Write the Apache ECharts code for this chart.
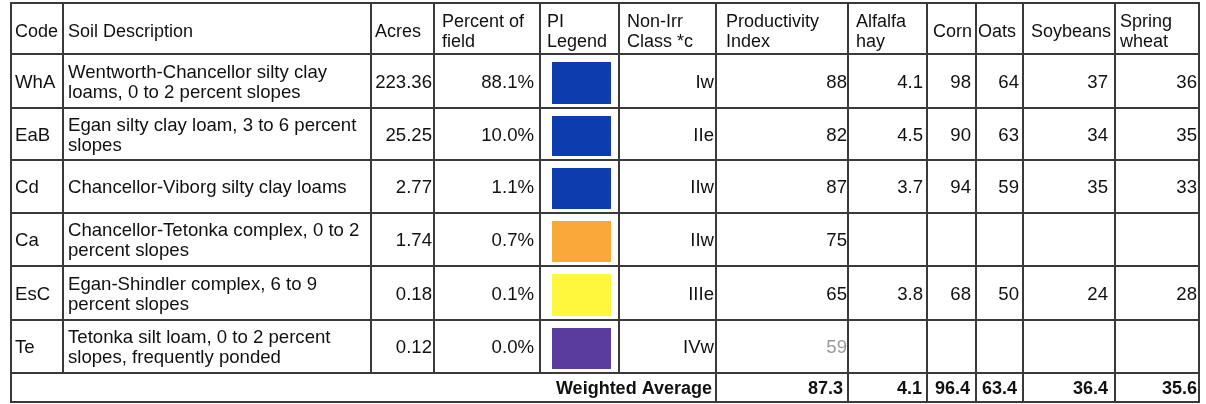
<!DOCTYPE html>
<html>
<head>
<meta charset="utf-8">
<script src="https://cdn.jsdelivr.net/npm/echarts@6/dist/echarts.min.js"></script>
<style>
html,body{margin:0;padding:0;background:#fff;}
#chart{width:1206px;height:404px;}
</style>
</head>
<body>
<div id="chart"></div>
<script>
// ---------- DATA ----------
const headers = ['Code', 'Soil Description', 'Acres', 'Percent of\nfield', 'PI\nLegend', 'Non-Irr\nClass *c',
  'Productivity\nIndex', 'Alfalfa\nhay', 'Corn', 'Oats', 'Soybeans', 'Spring\nwheat'];
const codes = ['WhA', 'EaB', 'Cd', 'Ca', 'EsC', 'Te'];
const descriptions = [
  'Wentworth-Chancellor silty clay\nloams, 0 to 2 percent slopes',
  'Egan silty clay loam, 3 to 6 percent\nslopes',
  'Chancellor-Viborg silty clay loams',
  'Chancellor-Tetonka complex, 0 to 2\npercent slopes',
  'Egan-Shindler complex, 6 to 9\npercent slopes',
  'Tetonka silt loam, 0 to 2 percent\nslopes, frequently ponded'
];
const acres = [223.36, 25.25, 2.77, 1.74, 0.18, 0.12];
const percentOfField = [88.1, 10.0, 1.1, 0.7, 0.1, 0.0];
const nonIrrClass = ['Iw', 'IIe', 'IIw', 'IIw', 'IIIe', 'IVw'];
const productivityIndex = [88, 82, 87, 75, 65, 59];
const alfalfaHay = [4.1, 4.5, 3.7, null, 3.8, null];
const corn = [98, 90, 94, null, 68, null];
const oats = [64, 63, 59, null, 50, null];
const soybeans = [37, 34, 35, null, 24, null];
const springWheat = [36, 35, 33, null, 28, null];
const weightedAverageLabel = 'Weighted Average';
const weightedAverage = [87.3, 4.1, 96.4, 63.4, 36.4, 35.6]; // PI, alfalfa, corn, oats, soybeans, spring wheat

// ---------- LAYOUT / STYLE ----------
const colEdges = [0, 52, 360, 423, 529, 608, 705, 837, 916, 965, 1012, 1104, 1188];
const rowEdges = [0, 51, 105, 157, 210, 263, 317, 370, 399];
const headerLeftPad = [4, 5, 4, 8, 7, 8, 10, 8, 6, 2, 8, 5];
const rightPad = [0, 0, 2, 6, 0, 2, 1, 4, 5, 4, 7, 2];
const footerRightPad = [4, 5, 5, 6, 6, 7, 2];
const FONT = '"Liberation Sans", Arial, sans-serif';
const LINE = '#3a3a3a';
function piColor(pi) {
  if (pi >= 80) return '#0c3cad';
  if (pi >= 70) return '#f8a93a';
  if (pi >= 60) return '#fff73d';
  return '#5a3c9f';
}

// ---------- CELLS ----------
const cells = [];
headers.forEach((h, c) => cells.push({c0: c, c1: c + 1, r: 0, text: h, align: 'left', header: true}));
function fmt(v, d) { return v == null ? '' : v.toFixed(d); }
codes.forEach((code, i) => {
  const r = i + 1;
  cells.push({c0: 0, c1: 1, r, text: code, align: 'left'});
  cells.push({c0: 1, c1: 2, r, text: descriptions[i], align: 'left'});
  cells.push({c0: 2, c1: 3, r, text: fmt(acres[i], 2), align: 'right'});
  cells.push({c0: 3, c1: 4, r, text: fmt(percentOfField[i], 1) + '%', align: 'right'});
  cells.push({c0: 4, c1: 5, r, text: '', swatch: piColor(productivityIndex[i])});
  cells.push({c0: 5, c1: 6, r, text: nonIrrClass[i], align: 'right'});
  cells.push({c0: 6, c1: 7, r, text: String(productivityIndex[i]), align: 'right', faded: productivityIndex[i] < 60});
  cells.push({c0: 7, c1: 8, r, text: fmt(alfalfaHay[i], 1), align: 'right'});
  cells.push({c0: 8, c1: 9, r, text: fmt(corn[i], 0), align: 'right'});
  cells.push({c0: 9, c1: 10, r, text: fmt(oats[i], 0), align: 'right'});
  cells.push({c0: 10, c1: 11, r, text: fmt(soybeans[i], 0), align: 'right'});
  cells.push({c0: 11, c1: 12, r, text: fmt(springWheat[i], 0), align: 'right'});
});
const footRow = codes.length + 1;
cells.push({c0: 0, c1: 6, r: footRow, text: weightedAverageLabel, align: 'right', bold: true, fpad: footerRightPad[0]});
weightedAverage.forEach((v, k) => cells.push({c0: 6 + k, c1: 7 + k, r: footRow, text: v.toFixed(1), align: 'right', bold: true, fpad: footerRightPad[k + 1]}));

function renderItem(params, api) {
  const cell = cells[api.value(3)];
  const p0 = api.coord([colEdges[cell.c0], rowEdges[cell.r]]);
  const p1 = api.coord([colEdges[cell.c1], rowEdges[cell.r + 1]]);
  const x0 = p0[0], y0 = p0[1], x1 = p1[0], y1 = p1[1];
  const children = [{
    type: 'rect',
    shape: {x: x0, y: y0, width: x1 - x0, height: y1 - y0},
    style: {fill: 'rgba(0,0,0,0)', stroke: LINE, lineWidth: 2}
  }];
  if (cell.swatch) {
    children.push({
      type: 'rect',
      shape: {x: x0 + 12, y: y0 + 8, width: (x1 - x0) - 20, height: (y1 - y0) - 12},
      style: {fill: cell.swatch}
    });
  }
  if (cell.text) {
    let tx;
    if (cell.align === 'left') {
      tx = x0 + (cell.header ? headerLeftPad[cell.c0] : (cell.c0 === 0 ? 4 : 5));
    } else {
      tx = x1 - (cell.fpad != null ? cell.fpad : rightPad[cell.c0]);
    }
    children.push({
      type: 'text',
      style: {
        text: cell.text,
        x: tx,
        y: (y0 + y1) / 2 + (cell.header ? 3.5 : 1.5),
        align: cell.align,
        verticalAlign: 'middle',
        fontFamily: FONT,
        fontSize: (cell.header || cell.bold) ? 18 : 18.6,
        fontWeight: cell.bold ? 'bold' : 'normal',
        lineHeight: 20,
        fill: cell.faded ? '#9a9a9a' : '#111'
      }
    });
  }
  return {type: 'group', children};
}

const chart = echarts.init(document.getElementById('chart'), null, {renderer: 'canvas'});
chart.setOption({
  animation: false,
  backgroundColor: '#fff',
  grid: {left: 11, top: 3, width: 1188, height: 399},
  xAxis: {type: 'value', min: 0, max: 1188, show: false},
  yAxis: {type: 'value', min: 0, max: 399, inverse: true, show: false},
  series: [{
    type: 'custom',
    renderItem,
    clip: false,
    encode: {x: 0, y: 2},
    data: cells.map((c, i) => [colEdges[c.c0], colEdges[c.c1], rowEdges[c.r], i])
  }]
});
</script>
</body>
</html>
